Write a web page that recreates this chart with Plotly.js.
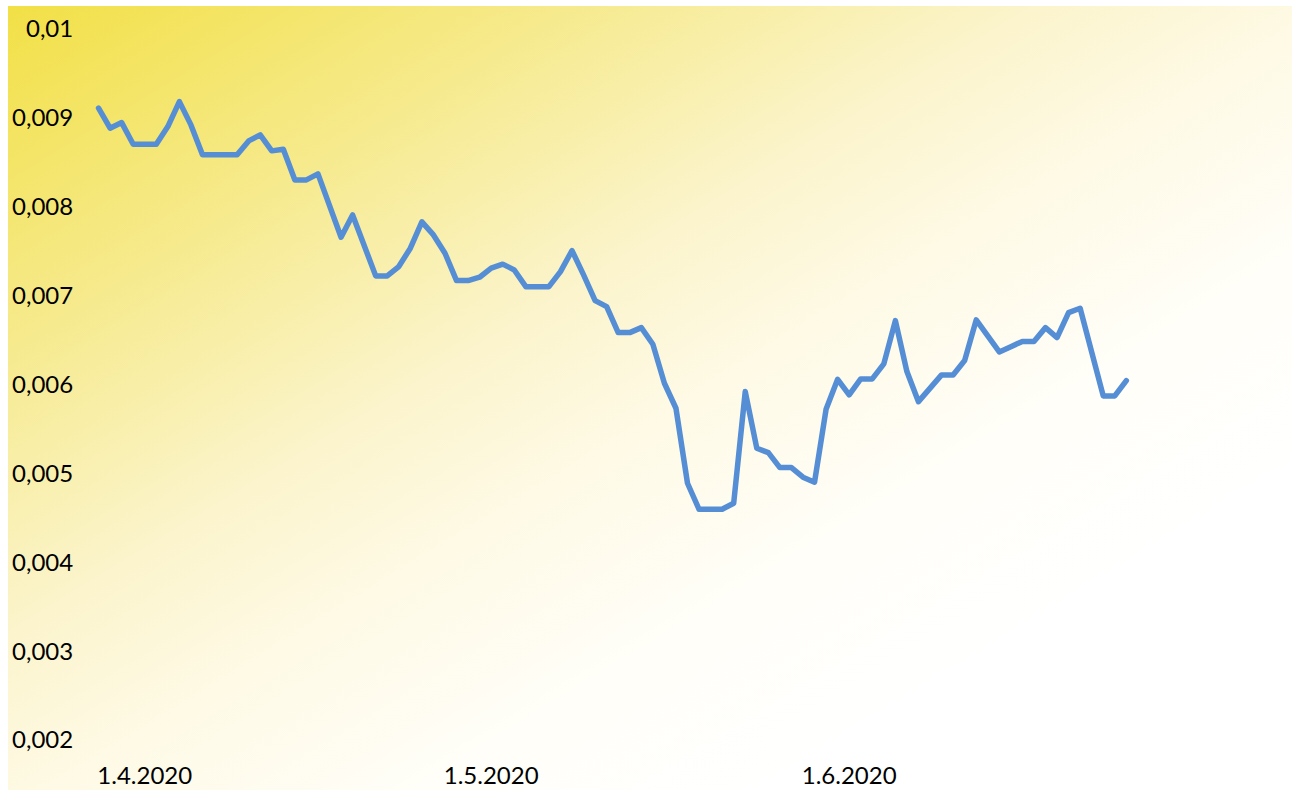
<!DOCTYPE html>
<html>
<head>
<meta charset="utf-8">
<script src="https://cdn.plot.ly/plotly-3.0.1.min.js"></script>
<style>
  html, body { margin: 0; padding: 0; background: #ffffff; }
  #wrap { position: relative; width: 1300px; height: 790px; overflow: hidden; }
  #bg { position: absolute; left: 8px; top: 6px; width: 1284px; height: 784px;
        background: linear-gradient(to bottom right, #F2E046 0%, #F6EA8E 22%, #FBF4CC 40%, #FEFAE6 52%, #FFFEF8 66%, #FFFFFF 80%); }
  #chart { position: absolute; left: 0; top: 0; width: 1300px; height: 790px; }
  #chart .js-line { stroke-linejoin: round; stroke-linecap: round; }
</style>
</head>
<body>
<div id="wrap">
  <div id="bg"></div>
  <div id="chart"></div>
</div>
<script>
// Daily series starting 28.3.2020
const startDate = '2020-03-28';
const seriesValues = [
  0.009109, 0.008884, 0.008947, 0.008704, 0.008704, 0.008704, 0.008902, 0.009183, 0.008921, 0.008584,
  0.008584, 0.008584, 0.008584, 0.008741, 0.008809, 0.008629, 0.008648, 0.008302, 0.008302, 0.008370,
  0.008010, 0.007657, 0.007908, 0.007571, 0.007222, 0.007222, 0.007327, 0.007534, 0.007830, 0.007683,
  0.007477, 0.007169, 0.007169, 0.007207, 0.007309, 0.007354, 0.007289, 0.007101, 0.007101, 0.007101,
  0.007270, 0.007507, 0.007233, 0.006944, 0.006876, 0.006584, 0.006584, 0.006640, 0.006453, 0.006014,
  0.005733, 0.004889, 0.004596, 0.004596, 0.004596, 0.004664, 0.005920, 0.005283, 0.005233, 0.005065,
  0.005065, 0.004957, 0.004900, 0.005722, 0.006059, 0.005883, 0.006063, 0.006063, 0.006232, 0.006719,
  0.006145, 0.005807, 0.005947, 0.006108, 0.006108, 0.006269, 0.006727, 0.006547, 0.006367, 0.006426,
  0.006485, 0.006485, 0.006640, 0.006528, 0.006809, 0.006858, 0.006367, 0.005872, 0.005872, 0.006044
];
const xTickVals = ['2020-04-01', '2020-05-01', '2020-06-01'];
const xTickText = ['1.4.2020', '1.5.2020', '1.6.2020'];
const yTickVals = [0.002, 0.003, 0.004, 0.005, 0.006, 0.007, 0.008, 0.009, 0.01];
const yTickText = ['0,002', '0,003', '0,004', '0,005', '0,006', '0,007', '0,008', '0,009', '0,01'];

const dates = [];
(function () {
  const d0 = new Date(startDate + 'T00:00:00Z');
  for (let i = 0; i < seriesValues.length; i++) {
    const d = new Date(d0.getTime() + i * 86400000);
    dates.push(d.toISOString().slice(0, 10));
  }
})();

const trace = {
  x: dates,
  y: seriesValues,
  type: 'scatter',
  mode: 'lines',
  line: { color: '#558ED5', width: 5.5 },
  hoverinfo: 'x+y'
};

const layout = {
  width: 1300,
  height: 790,
  margin: { l: 86.7, r: 11.6, t: 29, b: 50 },
  paper_bgcolor: 'rgba(0,0,0,0)',
  plot_bgcolor: 'rgba(0,0,0,0)',
  showlegend: false,
  font: { family: 'Lato, "Open Sans", sans-serif', size: 24, color: '#000000' },
  xaxis: {
    type: 'date',
    range: ['2020-03-27', '2020-07-09'],
    tickmode: 'array',
    tickvals: xTickVals,
    ticktext: xTickText,
    showgrid: false,
    zeroline: false,
    showline: false,
    ticks: 'outside',
    ticklen: 14,
    tickcolor: 'rgba(0,0,0,0)',
    tickfont: { family: 'Lato, "Open Sans", sans-serif', size: 24, color: '#000000' }
  },
  yaxis: {
    range: [0.002, 0.01],
    tickmode: 'array',
    tickvals: yTickVals,
    ticktext: yTickText,
    showgrid: false,
    zeroline: false,
    showline: false,
    ticks: 'outside',
    ticklen: 8,
    tickcolor: 'rgba(0,0,0,0)',
    tickfont: { family: 'Lato, "Open Sans", sans-serif', size: 24, color: '#000000' }
  }
};

Plotly.newPlot('chart', [trace], layout, { displayModeBar: false, staticPlot: true });
</script>
</body>
</html>
